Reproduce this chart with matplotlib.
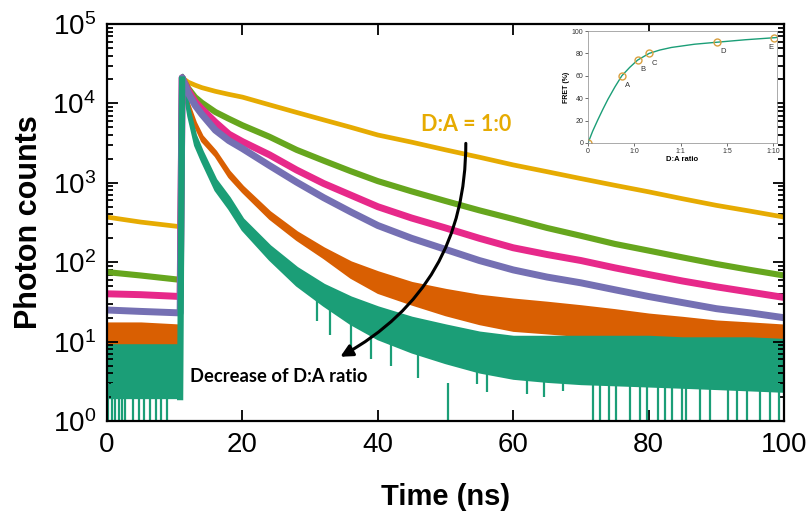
import numpy as np
import matplotlib
matplotlib.use('Agg')
import matplotlib.pyplot as plt
from matplotlib.ticker import LogLocator, NullFormatter

plt.rcParams['font.family'] = ['Liberation Sans', 'DejaVu Sans']

# ── Decay traces, values ────────────────────────────────────────
time_ns = [0, 5, 10.8, 11.1, 12, 13, 14, 16, 18, 20, 24, 28, 32, 36, 40,
           45, 50, 55, 60, 65, 70, 75, 80, 85, 90, 95, 100]

yellow = [370, 320, 280, 21000, 18500, 17000, 15800, 14200, 13000, 12000, 9600,
          7700, 6200, 5000, 4000, 3250, 2600, 2100, 1680, 1380, 1130, 930, 770,
          630, 520, 440, 370]
green = [75, 68, 60, 21000, 15500, 12000, 10200, 7800, 6400, 5300, 3800, 2600,
         1900, 1400, 1050, 780, 590, 450, 350, 270, 215, 170, 140, 115, 95, 80, 68]
pink = [40, 39, 37, 21000, 14500, 10500, 8500, 5800, 4100, 3300, 2250, 1450,
        980, 700, 500, 360, 270, 200, 152, 125, 105, 85, 70, 58, 49, 42, 36]
purple = [25, 24, 23, 21000, 13500, 9500, 7300, 4600, 3400, 2700, 1650, 1020,
          650, 430, 290, 200, 145, 105, 80, 65, 55, 45, 37, 31, 26, 23, 20]
orange_hi = [17, 17, 16, 22000, 10000, 5800, 3900, 2500, 1400, 900, 430, 240,
             150, 100, 75, 55, 45, 38, 34, 31, 28, 25, 22, 20, 18, 17, 16]
orange_lo = [7, 7, 6.5, 20000, 9000, 5200, 3400, 2200, 1200, 780, 360, 195,
             115, 65, 42, 30, 22, 17, 14, 13, 12, 11, 10, 9, 8.5, 8, 7.5]
teal_hi = [9, 9, 9, 23000, 9000, 4000, 2500, 1100, 650, 350, 160, 85, 52, 36,
           27, 20, 16, 13, 11.5, 11.5, 11.5, 11.5, 11.5, 11, 11, 11, 10.5]
teal_lo = [2, 2, 2, 20000, 7000, 3000, 1900, 820, 480, 260, 110, 52, 29, 17,
           11, 7.5, 5.5, 4.2, 3.5, 3.2, 3, 2.9, 2.8, 2.7, 2.6, 2.5, 2.4]

# zero-count channels of the teal trace (drawn down to the axis)
teal_zero_t = [0.2, 0.7, 1.2, 1.7, 2.2, 2.7, 3.9, 4.7, 5.4, 6.4, 7.2, 7.9, 8.9,
               50.4, 71.8, 72.8, 74.2, 75.2, 77.3, 78.7, 79.7, 81.4, 82.4, 83.5,
               84.9, 85.5, 87.6, 89.0, 91.7, 93.1, 94.5, 96.5, 97.9, 99.3]
# deep dips of the teal trace: time, lowest count, band edge above it
teal_dip_t = [31, 33, 36, 39, 42, 46, 54.7, 56.2, 62, 64.5, 67.4]
teal_dip_lo = [18, 12, 8, 6, 5, 3.5, 2.9, 2.3, 2.2, 2.0, 2.4]
teal_dip_top = [40, 32, 20, 14, 10, 8, 6, 5, 5, 4.5, 4]

# ── Inset: FRET vs D:A ratio ────────────────────────────────────
ratio_pos = [0, 0.73, 1.07, 1.32, 2.79, 4.02]
fret_pct = [0, 60, 74, 80, 90, 94]
point_names = ['', 'A', 'B', 'C', 'D', 'E']
fit_pos = [0, 0.1, 0.21, 0.32, 0.43, 0.58, 0.73, 0.9, 1.07, 1.32, 1.55, 1.8,
           2.3, 2.79, 3.4, 4.02, 4.08]
fit_pct = [0, 10.5, 20.5, 30, 39, 50, 60, 67.5, 74, 80, 83, 85.3, 88.2, 90,
           92.2, 94, 94.2]
ratio_ticks = [0, 1, 2, 3, 4]
ratio_labels = ['0', '1:0', '1:1', '1:5', '1:10']

C_YEL, C_GRN, C_PNK, C_PUR, C_ORG, C_TEAL = ('#E6AB02', '#66A61E', '#E7298A',
                                              '#7570B3', '#D95F02', '#1B9E77')

fig = plt.figure(figsize=(8.12, 5.15), dpi=100)
ax = fig.add_axes([0.1318, 0.1825, 0.8337, 0.7709])

for vals, col, lw in [(yellow, C_YEL, 3.4), (green, C_GRN, 4.4),
                      (pink, C_PNK, 5.0), (purple, C_PUR, 5.0)]:
    ax.plot(time_ns, vals, color=col, lw=lw, solid_joinstyle='round')

ax.fill_between(time_ns, orange_lo, orange_hi, color=C_ORG, lw=2.0, edgecolor=C_ORG)

ax.vlines(teal_zero_t, 0.5, 3, color=C_TEAL, lw=1.6)
ax.vlines(teal_dip_t, teal_dip_lo, teal_dip_top, color=C_TEAL, lw=1.6)
ax.fill_between(time_ns, teal_lo, teal_hi, color=C_TEAL, lw=2.2, edgecolor=C_TEAL)
# the steep rising edge of the teal trace lies on top of all the others
ax.plot(time_ns[2:4], teal_lo[2:4], color=C_TEAL, lw=4.5)

ax.set_yscale('log')
ax.set_xlim(0, 100)
ax.set_ylim(1, 1e5)
ax.set_xticks([0, 20, 40, 60, 80, 100])
ax.yaxis.set_major_locator(LogLocator(base=10, numticks=10))
ax.yaxis.set_minor_locator(LogLocator(base=10, subs=np.arange(2, 10), numticks=10))
ax.yaxis.set_minor_formatter(NullFormatter())
ax.tick_params(which='both', direction='in', top=True, right=True,
               labelsize=20, width=1.3)
ax.tick_params(which='major', length=8, pad=8)
ax.tick_params(which='minor', length=4)
for s in ax.spines.values():
    s.set_linewidth(1.6)

ax.set_xlabel('Time (ns)', fontsize=21, fontweight='bold', labelpad=18)
ax.set_ylabel('Photon counts', fontsize=22, fontweight='bold', labelpad=6)

ax.text(53, 5500, 'D:A = 1:0', color=C_YEL, fontsize=15.5, fontweight='bold',
        family=['Lato', 'DejaVu Sans'], ha='center', va='center')
ax.annotate('', xy=(34.1, 6.2), xytext=(53, 3400),
            arrowprops=dict(arrowstyle='-|>', color='black', lw=2.2,
                            mutation_scale=18,
                            connectionstyle='arc3,rad=-0.3'))
ax.text(12.3, 3.6, 'Decrease of D:A ratio', fontsize=13.2, fontweight='bold',
        family=['Lato', 'DejaVu Sans'], ha='left', va='center')

# ── Inset ───────────────────────────────────────────────────────
ins = fig.add_axes([588 / 812, 1 - 143 / 515, 189 / 812, 112 / 515])
ins.plot(fit_pos, fit_pct, color=C_TEAL, lw=1.0)
ins.plot(ratio_pos, fret_pct, 'o', ms=5, mfc='none', mec='#D9A040', mew=1.0)
for xp, yp, nm in zip(ratio_pos, fret_pct, point_names):
    off = (-4, -8) if nm == 'E' else (2, -8)
    ins.annotate(nm, (xp, yp), xytext=off, textcoords='offset points',
                 fontsize=5.5, color='#333333')
ins.set_xlim(0, 4.08)
ins.set_ylim(0, 100)
ins.set_xticks(ratio_ticks)
ins.set_xticklabels(ratio_labels)
ins.set_yticks([0, 20, 40, 60, 80, 100])
ins.tick_params(labelsize=5, length=2, width=0.5, pad=1.5, colors='#333333')
for s in ins.spines.values():
    s.set_linewidth(0.5)
    s.set_color('#888888')
ins.set_xlabel('D:A ratio', fontsize=5.5, fontweight='bold', labelpad=1)
ins.set_ylabel('FRET (%)', fontsize=5, fontweight='bold', labelpad=1)

fig.savefig('out.png', dpi=100)
